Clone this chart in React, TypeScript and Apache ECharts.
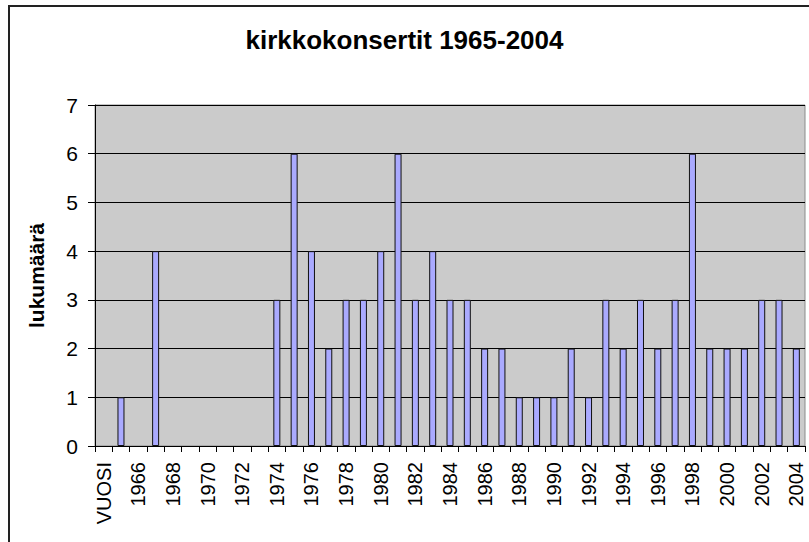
import React, { useEffect, useRef } from "react";
import * as echarts from "echarts";

const categories: string[] = [
  "VUOSI",
  "1965", "1966", "1967", "1968", "1969", "1970", "1971", "1972", "1973", "1974",
  "1975", "1976", "1977", "1978", "1979", "1980", "1981", "1982", "1983", "1984",
  "1985", "1986", "1987", "1988", "1989", "1990", "1991", "1992", "1993", "1994",
  "1995", "1996", "1997", "1998", "1999", "2000", "2001", "2002", "2003", "2004",
];

const values: number[] = [
  0,
  1, 0, 4, 0, 0, 0, 0, 0, 0, 3,
  6, 4, 2, 3, 3, 4, 6, 3, 4, 3,
  3, 2, 2, 1, 1, 1, 2, 1, 3, 2,
  3, 2, 3, 6, 2, 2, 2, 3, 3, 2,
];

const titleText = "kirkkokonsertit 1965-2004";
const yAxisName = "lukumäärä";

export default function App() {
  const ref = useRef<HTMLDivElement>(null);
  useEffect(() => {
    document.body.style.margin = "0";
    if (!ref.current) return;
    const chart = echarts.init(ref.current, undefined, { renderer: "svg" });
    const font = "Liberation Sans";
    chart.setOption({
      animation: false,
      backgroundColor: "#ffffff",
      textStyle: { fontFamily: font },
      title: {
        text: titleText,
        left: "center",
        top: 22,
        textStyle: { fontFamily: font, fontSize: 26, fontWeight: "bold", color: "#000" },
      },
      graphic: [
        {
          type: "rect",
          shape: { x: 8, y: 5, width: 801, height: 2 },
          style: { fill: "#222" },
          silent: true,
          z: 10,
        },
        {
          type: "rect",
          shape: { x: 8, y: 5, width: 2, height: 537 },
          style: { fill: "#222" },
          silent: true,
          z: 10,
        },
      ],
      grid: {
        left: 95,
        top: 105,
        right: 4,
        bottom: 96,
        show: true,
        backgroundColor: "#cbcbcb",
        borderColor: "#8a8a8a",
        borderWidth: 1,
        containLabel: false,
      },
      xAxis: {
        type: "category",
        data: categories,
        boundaryGap: true,
        axisLine: { show: true, lineStyle: { color: "#000", width: 1 } },
        axisTick: { show: true, interval: 0, length: 6, alignWithLabel: false, lineStyle: { color: "#000" } },
        axisLabel: {
          interval: 1,
          rotate: 90,
          margin: 16,
          fontSize: 20,
          color: "#000",
          fontFamily: font,
        },
        splitLine: { show: false },
      },
      yAxis: {
        type: "value",
        min: 0,
        max: 7,
        interval: 1,
        name: yAxisName,
        nameLocation: "middle",
        nameGap: 48,
        nameTextStyle: { fontFamily: font, fontSize: 21, fontWeight: "bold", color: "#000" },
        axisLine: { show: true, lineStyle: { color: "#000", width: 1 } },
        axisTick: { show: true, length: 7, inside: false, lineStyle: { color: "#000" } },
        axisLabel: { fontSize: 21, color: "#000", margin: 17, fontFamily: font },
        splitLine: { show: true, lineStyle: { color: "#000", width: 1 } },
      },
      series: [
        {
          type: "bar",
          data: values.map((v) => (v === 0 ? "-" : v)),
          barWidth: 7,
          itemStyle: { color: "#aaaaff", borderColor: "#111", borderWidth: 1 },
        },
      ],
    });
    return () => chart.dispose();
  }, []);
  return <div ref={ref} style={{ width: 809, height: 542 }} />;
}
